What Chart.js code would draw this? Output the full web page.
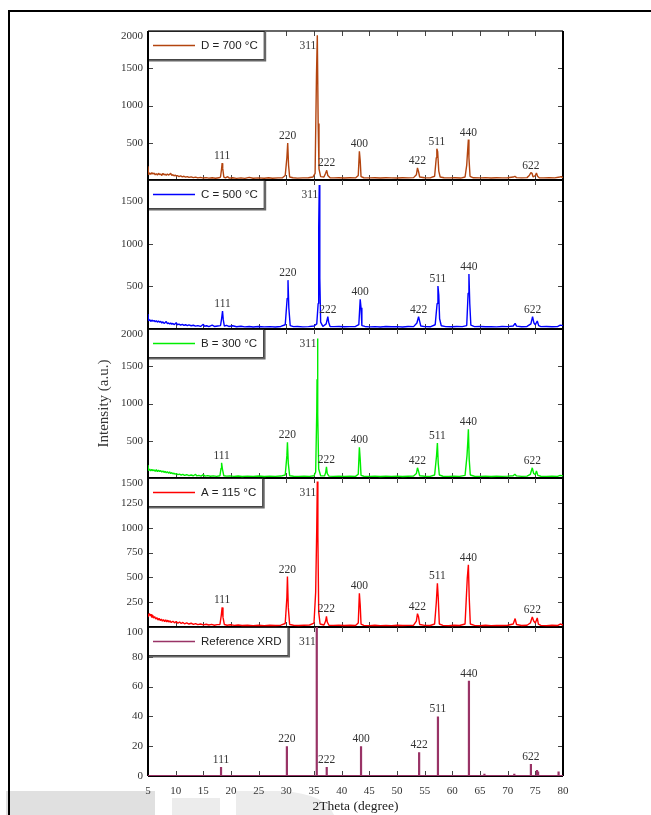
<!DOCTYPE html>
<html>
<head>
<meta charset="utf-8">
<script src="https://cdn.jsdelivr.net/npm/chart.js@4.4.0/dist/chart.umd.min.js"></script>
<style>
  html, body { margin: 0; padding: 0; background: #fff; }
  #wrap { position: relative; width: 651px; height: 815px; }
</style>
</head>
<body>
<div id="wrap"><canvas id="xrd" width="651" height="815"></canvas></div>
<script>
// ---- data: [2theta, intensity] ----
var seriesD = [
  [5.0,185],[5.1,70],[5.3,95],[5.5,75],[5.7,100],[5.9,80],[6.1,92],[6.3,70],[6.5,85],[6.7,65],[6.9,90],
  [7.1,72],[7.3,80],[7.5,60],[7.7,88],[7.9,70],[8.1,78],[8.3,62],[8.5,82],[8.7,66],[8.9,74],[9.1,90],
  [9.3,60],[9.5,72],[9.7,55],[9.9,68],[10.1,52],[10.3,60],[10.6,45],[10.9,55],[11.2,42],[11.5,50],
  [11.8,38],[12.1,46],[12.4,35],[12.8,42],[13.2,32],[13.6,38],[14.0,28],[14.5,35],[15.0,26],[15.5,32],
  [16.0,25],[16.6,30],[17.2,24],[17.8,30],[18.1,40],[18.3,150],[18.4,226],[18.5,160],[18.7,40],[19.0,28],
  [19.4,45],[19.7,25],[20.3,30],[21.0,22],[21.8,28],[22.5,22],[23.3,35],[24.0,24],[25.0,28],[26.0,24],
  [26.8,30],[27.5,24],[28.5,28],[29.3,30],[29.8,60],[30.1,300],[30.25,497],[30.4,200],[30.6,40],[31.2,30],
  [32.0,25],[33.0,28],[34.0,30],[34.8,40],[35.2,90],[35.45,1420],[35.6,1942],[35.75,760],[35.9,150],
  [36.2,45],[36.8,40],[37.1,90],[37.3,130],[37.5,60],[37.9,30],[38.6,28],[39.5,30],[40.5,26],[41.5,30],
  [42.5,28],[43.0,60],[43.2,384],[43.35,260],[43.5,45],[44.0,30],[45.0,28],[46.0,30],[47.0,26],[48.0,30],
  [49.0,28],[50.0,26],[51.0,30],[52.0,28],[53.0,32],[53.5,70],[53.7,163],[53.9,110],[54.1,40],[55.0,30],
  [56.0,28],[56.8,50],[57.1,300],[57.2,420],[57.35,380],[57.55,120],[57.8,40],[58.5,30],[59.5,28],
  [60.5,30],[61.5,26],[62.3,40],[62.6,200],[62.75,380],[62.9,542],[63.0,300],[63.2,50],[63.8,30],
  [65.0,28],[66.0,32],[67.0,27],[68.0,30],[69.0,28],[70.0,30],[71.0,40],[71.3,50],[71.6,32],[72.5,28],
  [73.5,32],[73.9,60],[74.2,100],[74.4,90],[74.6,40],[75.0,60],[75.2,95],[75.4,50],[75.7,30],[76.5,28],
  [77.5,30],[78.5,28],[79.4,40],[79.7,45],[80.0,30]
];

var seriesC = [
  [5.0,176],[5.1,95],[5.3,110],[5.5,88],[5.7,105],[5.9,92],[6.1,100],[6.3,85],[6.5,98],[6.7,80],[6.9,95],
  [7.1,78],[7.3,90],[7.5,70],[7.7,84],[7.9,66],[8.1,75],[8.3,88],[8.5,62],[8.7,72],[8.9,58],[9.1,70],
  [9.3,55],[9.5,66],[9.7,52],[9.9,60],[10.1,75],[10.3,50],[10.6,58],[10.9,45],[11.2,55],[11.5,42],
  [11.8,50],[12.1,40],[12.4,48],[12.8,38],[13.2,44],[13.6,34],[14.0,40],[14.5,30],[15.0,55],[15.2,32],
  [15.6,38],[16.0,28],[16.6,45],[17.0,30],[17.6,36],[18.1,40],[18.3,120],[18.47,211],[18.6,110],[18.8,35],
  [19.2,42],[19.6,30],[20.3,38],[21.0,26],[21.8,32],[22.5,25],[23.3,30],[24.0,24],[25.0,30],[26.0,25],
  [27.0,28],[28.0,24],[29.0,30],[29.8,50],[30.15,360],[30.3,574],[30.45,250],[30.7,40],[31.3,28],
  [32.0,30],[33.0,25],[34.0,28],[35.0,35],[35.5,60],[35.75,300],[35.85,1190],[35.95,1690],[36.05,600],
  [36.2,80],[36.6,30],[37.2,60],[37.5,145],[37.65,80],[37.9,30],[38.6,28],[39.5,30],[40.5,26],[41.5,28],
  [42.5,30],[43.1,50],[43.35,348],[43.5,250],[43.65,40],[44.2,30],[45.0,25],[46.0,28],[47.0,24],
  [48.0,30],[49.0,26],[50.0,28],[51.0,24],[52.0,30],[53.0,28],[53.6,70],[53.9,145],[54.1,90],[54.3,35],
  [55.0,28],[56.0,26],[56.9,50],[57.25,300],[57.4,504],[57.55,400],[57.7,120],[58.0,38],[58.8,28],
  [59.8,26],[60.8,30],[61.8,28],[62.6,40],[62.85,420],[63.0,645],[63.15,300],[63.35,45],[64.0,28],
  [65.0,30],[66.0,26],[67.0,28],[68.0,25],[69.0,30],[70.0,28],[71.0,35],[71.35,66],[71.6,34],[72.5,26],
  [73.5,30],[74.2,60],[74.5,145],[74.75,70],[75.0,50],[75.35,94],[75.6,40],[76.0,28],[77.0,30],
  [78.0,26],[79.0,28],[79.5,45],[80.0,40]
];

var seriesB = [
  [5.0,173],[5.1,100],[5.3,120],[5.5,95],[5.7,115],[5.9,98],[6.1,110],[6.3,90],[6.5,112],[6.7,85],
  [6.9,105],[7.1,88],[7.3,100],[7.5,80],[7.7,95],[7.9,75],[8.1,90],[8.3,70],[8.5,85],[8.7,65],[8.9,80],
  [9.1,60],[9.3,72],[9.5,55],[9.7,65],[9.9,50],[10.1,60],[10.4,45],[10.7,52],[11.0,40],[11.3,48],
  [11.6,36],[12.0,44],[12.4,32],[12.8,40],[13.2,30],[13.6,50],[13.8,28],[14.2,35],[14.6,26],[15.0,45],
  [15.3,25],[15.8,32],[16.3,24],[16.8,28],[17.4,22],[18.0,30],[18.2,130],[18.3,205],[18.45,120],
  [18.7,30],[19.2,25],[19.8,28],[20.5,22],[21.3,26],[22.0,20],[23.0,25],[24.0,22],[25.0,26],[26.0,21],
  [27.0,25],[28.0,22],[29.0,26],[29.8,40],[30.1,300],[30.2,480],[30.35,200],[30.6,30],[31.3,24],
  [32.2,22],[33.2,25],[34.2,22],[35.0,30],[35.3,80],[35.5,895],[35.55,1324],[35.62,1872],[35.72,860],
  [35.85,120],[36.2,30],[36.9,28],[37.1,70],[37.25,150],[37.4,60],[37.7,25],[38.5,22],[39.5,25],
  [40.5,22],[41.5,24],[42.5,22],[43.0,50],[43.2,411],[43.35,250],[43.5,35],[44.0,24],[45.0,22],
  [46.0,25],[47.0,21],[48.0,24],[49.0,22],[50.0,25],[51.0,21],[52.0,24],[53.0,26],[53.5,60],[53.7,137],
  [53.9,90],[54.1,30],[55.0,24],[56.0,22],[56.8,40],[57.15,300],[57.3,470],[57.45,200],[57.65,40],
  [58.3,24],[59.3,22],[60.3,25],[61.3,22],[62.3,35],[62.65,300],[62.8,493],[62.9,653],[63.05,250],
  [63.25,40],[64.0,24],[65.0,22],[66.0,25],[67.0,21],[68.0,24],[69.0,22],[70.0,25],[71.0,30],[71.3,50],
  [71.6,28],[72.5,22],[73.5,25],[74.1,50],[74.45,137],[74.7,60],[75.0,45],[75.2,96],[75.45,35],
  [76.0,24],[77.0,22],[78.0,25],[79.0,22],[79.5,35],[80.0,28]
];

var seriesA = [
  [5.0,100],[5.1,125],[5.25,135],[5.4,110],[5.55,128],[5.7,95],[5.85,120],[6.0,90],[6.2,105],[6.4,80],
  [6.6,95],[6.8,70],[7.0,88],[7.2,65],[7.4,80],[7.6,60],[7.8,75],[8.0,55],[8.2,72],[8.4,52],[8.6,68],
  [8.8,50],[9.0,62],[9.2,45],[9.5,58],[9.8,42],[10.1,55],[10.4,38],[10.7,50],[11.0,35],[11.3,46],
  [11.6,32],[12.0,42],[12.4,30],[12.8,38],[13.2,26],[13.6,34],[14.0,24],[14.5,30],[15.0,22],[15.5,28],
  [16.0,20],[16.5,26],[17.0,18],[17.5,24],[18.0,25],[18.25,120],[18.4,197],[18.55,100],[18.8,25],
  [19.3,18],[19.9,22],[20.6,16],[21.3,20],[22.0,15],[23.0,18],[24.0,14],[25.0,17],[26.0,14],[27.0,18],
  [28.0,15],[29.0,18],[29.8,35],[30.1,300],[30.2,508],[30.35,200],[30.6,25],[31.3,18],[32.2,15],
  [33.2,18],[34.2,20],[35.0,40],[35.3,350],[35.5,1000],[35.6,1464],[35.7,922],[35.85,150],[36.1,30],
  [36.8,20],[37.1,60],[37.25,108],[37.4,50],[37.7,18],[38.5,16],[39.5,18],[40.5,15],[41.5,17],[42.5,15],
  [43.0,40],[43.2,339],[43.35,220],[43.5,30],[44.0,16],[45.0,14],[46.0,17],[47.0,14],[48.0,16],[49.0,14],
  [50.0,17],[51.0,15],[52.0,16],[53.0,18],[53.5,60],[53.7,135],[53.9,100],[54.1,25],[55.0,16],[56.0,15],
  [56.8,30],[57.1,244],[57.3,440],[57.45,300],[57.65,30],[58.3,16],[59.3,14],[60.3,17],[61.3,15],
  [62.3,30],[62.7,491],[62.9,627],[63.05,300],[63.25,30],[64.0,16],[65.0,14],[66.0,17],[67.0,14],
  [68.0,16],[69.0,15],[70.0,18],[71.0,30],[71.35,85],[71.6,25],[72.5,15],[73.5,18],[74.1,40],[74.45,102],
  [74.7,60],[75.0,40],[75.35,91],[75.55,30],[76.0,16],[77.0,14],[78.0,17],[79.0,15],[79.5,30],[80.0,20]
];

// reference pattern (stick lines)
var refPos = [18.2, 30.1, 35.5, 37.3, 43.5, 54.0, 57.4, 63.0, 65.8, 71.2, 74.2, 75.3, 75.5, 79.2];
var refInt = [6, 20, 100, 6, 20, 16, 40, 64, 1.5, 1.5, 8, 4, 3, 3];

// peak labels
var hklNames = ['111', '220', '311', '222', '400', '422', '511', '440', '622'];
var hklPos = [18.4, 30.2, 35.6, 37.3, 43.3, 53.8, 57.3, 62.9, 74.4];
var hklRefPos = [18.2, 30.1, 35.5, 37.3, 43.5, 54.0, 57.4, 63.0, 74.2];

var panelNames = ['D = 700 °C', 'C = 500 °C', 'B = 300 °C', 'A = 115 °C', 'Reference XRD'];
var panelMax = [2000, 1750, 2000, 1500, 100];
var yTicksD = [500, 1000, 1500, 2000];
var yTicksC = [500, 1000, 1500];
var yTicksB = [500, 1000, 1500, 2000];
var yTicksA = [250, 500, 750, 1000, 1250, 1500];
var yTicksRef = [0, 20, 40, 60, 80, 100];
var xMin = 5, xMax = 80, xStep = 5;

// ---- build the chart ----
var refLine = [[xMin, 0]];
refPos.forEach(function(p, i) { refLine.push([p, 0], [p, refInt[i]], [p, 0]); });
refLine.push([xMax, 0]);

var panels = [
  { axis: 'yD', data: seriesD, color: '#b3440f', ticks: yTicksD, hkl: hklPos },
  { axis: 'yC', data: seriesC, color: '#0000ff', ticks: yTicksC, hkl: hklPos },
  { axis: 'yB', data: seriesB, color: '#00ee00', ticks: yTicksB, hkl: hklPos },
  { axis: 'yA', data: seriesA, color: '#ff0000', ticks: yTicksA, hkl: hklPos },
  { axis: 'yR', data: refLine, color: '#993366', ticks: yTicksRef, hkl: hklRefPos }
];

var serif = '"Liberation Serif", "Times New Roman", serif';
var sans = '"Liberation Sans", Arial, sans-serif';

var scales = {
  x: {
    type: 'linear', position: 'bottom', min: xMin, max: xMax,
    ticks: { stepSize: xStep, color: '#333', font: { family: serif, size: 11 }, padding: 1, maxRotation: 0 },
    grid: { display: false }, border: { display: false },
    title: { display: true, text: '2Theta (degree)', color: '#222', font: { family: serif, size: 13.5 }, padding: { top: 0, bottom: 0 } },
    afterFit: function(s) { s.height = 39; }
  }
};
panels.forEach(function(p, i) {
  scales[p.axis] = {
    type: 'linear', position: 'left', stack: 'xrd', stackWeight: 1, weight: 5 - i,
    min: 0, max: panelMax[i],
    ticks: { display: false }, grid: { display: false }, border: { display: false },
    title: { display: p.axis === 'yB', text: 'Intensity (a.u.)', color: '#333', font: { family: serif, size: 15 }, padding: { top: 5, bottom: 0 } },
    afterFit: function(s) { s.width = 58; }
  };
});

function peakTop(data, pos) {
  var best = null;
  data.forEach(function(d) {
    if (Math.abs(d[0] - pos) <= 0.5 && (!best || d[1] > best[1])) best = d;
  });
  return best;
}

var decor = {
  id: 'decor',
  beforeDraw: function(chart) {
    var ctx = chart.ctx;
    ctx.save();
    // faint scan marks along the bottom edge
    ctx.fillStyle = '#e0e0e0';
    ctx.fillRect(6, 791, 149, 24);
    ctx.fillStyle = '#ececec';
    ctx.fillRect(172, 798, 48, 17);
    ctx.beginPath();
    ctx.moveTo(236, 815); ctx.lineTo(236, 791); ctx.lineTo(282, 791);
    ctx.quadraticCurveTo(326, 794, 334, 815); ctx.closePath(); ctx.fill();
    // page frame
    ctx.strokeStyle = '#000'; ctx.lineWidth = 2;
    ctx.beginPath(); ctx.moveTo(9, 815); ctx.lineTo(9, 11); ctx.lineTo(651, 11); ctx.stroke();
    ctx.restore();
  },
  beforeDatasetsDraw: function(chart) {
    var ctx = chart.ctx, ca = chart.chartArea, xs = chart.scales.x;
    ctx.save();
    panels.forEach(function(p) {
      var ys = chart.scales[p.axis];
      ctx.strokeStyle = '#444'; ctx.lineWidth = 1;
      ctx.beginPath();
      p.ticks.forEach(function(v) {
        var py = Math.round(ys.getPixelForValue(v)) + 0.5;
        if (py < ys.top + 3 || py > ys.bottom - 3) return;
        ctx.moveTo(ca.left, py); ctx.lineTo(ca.left + 5, py);
        ctx.moveTo(ca.right, py); ctx.lineTo(ca.right - 5, py);
      });
      xs.ticks.forEach(function(t) {
        var px = Math.round(xs.getPixelForValue(t.value)) + 0.5;
        if (px < ca.left + 3 || px > ca.right - 3) return;
        ctx.moveTo(px, ys.bottom); ctx.lineTo(px, ys.bottom - 5);
        ctx.moveTo(px, ys.top); ctx.lineTo(px, ys.top + 5);
      });
      ctx.stroke();
      // separators between panels
      ctx.strokeStyle = '#000'; ctx.lineWidth = 2;
      ctx.beginPath(); ctx.moveTo(ca.left, ys.bottom); ctx.lineTo(ca.right, ys.bottom); ctx.stroke();
    });
    ctx.strokeStyle = '#333'; ctx.lineWidth = 1.5;
    ctx.beginPath(); ctx.moveTo(ca.left, ca.top); ctx.lineTo(ca.right, ca.top); ctx.stroke();
    ctx.strokeStyle = '#000'; ctx.lineWidth = 2;
    ctx.beginPath();
    ctx.moveTo(ca.left, ca.top); ctx.lineTo(ca.left, ca.bottom);
    ctx.moveTo(ca.right, ca.top); ctx.lineTo(ca.right, ca.bottom);
    ctx.stroke();
    ctx.restore();
  },
  afterDraw: function(chart) {
    var ctx = chart.ctx, ca = chart.chartArea, xs = chart.scales.x;
    ctx.save();
    panels.forEach(function(p, i) {
      var ys = chart.scales[p.axis];
      // y tick labels (top one kept inside the panel)
      ctx.font = '11px ' + serif; ctx.fillStyle = '#333';
      ctx.textAlign = 'right'; ctx.textBaseline = 'middle';
      p.ticks.forEach(function(v) {
        var py = Math.max(ys.getPixelForValue(v), ys.top + 5);
        ctx.fillText(String(v), ca.left - 5, py);
      });
      // peak labels
      ctx.font = '11.5px ' + serif; ctx.fillStyle = '#333';
      hklNames.forEach(function(name, k) {
        var pk = peakTop(p.data, p.hkl[k]);
        if (!pk) return;
        var px = xs.getPixelForValue(pk[0]);
        if (name === '311') {
          ctx.textAlign = 'right';
          ctx.fillText(name, px - 1, ys.top + 15);
        } else {
          ctx.textAlign = 'center';
          ctx.fillText(name, px, ys.getPixelForValue(pk[1]) - 7);
        }
      });
      // legend box
      var bx = ca.left, by = ys.top;
      ctx.font = '11.5px ' + sans;
      var bw = 53 + ctx.measureText(panelNames[i]).width + 6, bh = 28;
      ctx.fillStyle = '#fff'; ctx.fillRect(bx, by, bw, bh);
      ctx.strokeStyle = '#222'; ctx.lineWidth = 1;
      ctx.strokeRect(bx + 0.5, by + 0.5, bw, bh);
      ctx.strokeStyle = '#666'; ctx.lineWidth = 2;
      ctx.beginPath(); ctx.moveTo(bx + 1, by + bh + 1.5); ctx.lineTo(bx + bw + 1.5, by + bh + 1.5); ctx.lineTo(bx + bw + 1.5, by + 1); ctx.stroke();
      ctx.strokeStyle = p.color; ctx.lineWidth = 1.5;
      ctx.beginPath(); ctx.moveTo(bx + 5, by + 14.5); ctx.lineTo(bx + 47, by + 14.5); ctx.stroke();
      ctx.fillStyle = '#222'; ctx.textAlign = 'left'; ctx.textBaseline = 'middle';
      ctx.fillText(panelNames[i], bx + 53, by + 15);
      // re-draw left edge over the box
      ctx.strokeStyle = '#000'; ctx.lineWidth = 2;
      ctx.beginPath(); ctx.moveTo(ca.left, by); ctx.lineTo(ca.left, by + bh + 2); ctx.stroke();
    });
    ctx.restore();
  }
};

new Chart(document.getElementById('xrd'), {
  type: 'line',
  data: {
    datasets: panels.map(function(p, i) {
      return {
        label: panelNames[i],
        yAxisID: p.axis, xAxisID: 'x',
        data: p.data.map(function(d) { return { x: d[0], y: d[1] }; }),
        borderColor: p.color,
        borderWidth: p.axis === 'yR' ? 2.2 : 1.4,
        borderJoinStyle: 'bevel',
        pointRadius: 0, tension: 0, fill: false
      };
    })
  },
  options: {
    responsive: false, animation: false, devicePixelRatio: 1,
    layout: { padding: { left: 90, right: 88, top: 31, bottom: 0 } },
    plugins: { legend: { display: false }, tooltip: { enabled: false } },
    scales: scales
  },
  plugins: [decor]
});
</script>
</body>
</html>
